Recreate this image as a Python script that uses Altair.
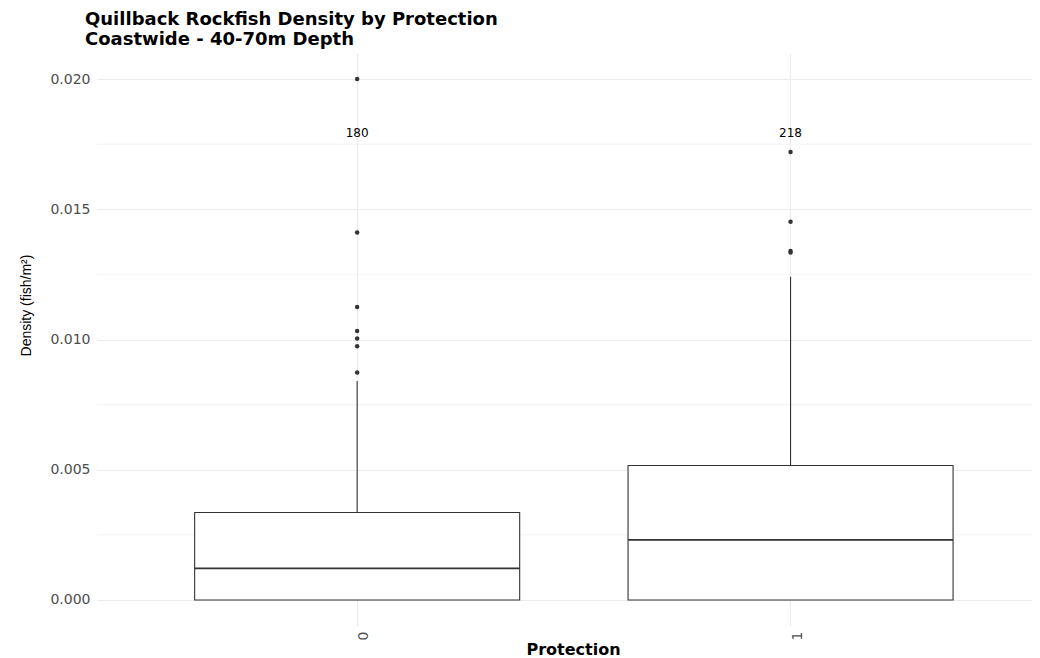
import altair as alt
import pandas as pd

# ---- data ----
protection = ["0", "1"]
q1 = [0.0, 0.0]
median = [0.00121, 0.00231]
q3 = [0.00336, 0.00516]
whisker_lo = [0.0, 0.0]
whisker_hi = [0.00841, 0.01241]
counts = [180, 218]
label_level = [0.018, 0.018]

out_group = ["0", "0", "0", "0", "0", "0", "0", "1", "1", "1", "1"]
out_value = [0.0200, 0.01411, 0.01125, 0.01033, 0.01004, 0.00974, 0.00873,
             0.01720, 0.01452, 0.01340, 0.01334]

y_major = [0.0, 0.005, 0.010, 0.015, 0.020]
y_minor = [0.0025, 0.0075, 0.0125, 0.0175]

box_df = pd.DataFrame({
    "Protection": protection, "q1": q1, "median": median, "q3": q3,
    "lo": whisker_lo, "hi": whisker_hi, "n": counts, "ly": label_level,
})
out_df = pd.DataFrame({"Protection": out_group, "value": out_value})
minor_df = pd.DataFrame({"v": y_minor})

Y_TITLE = "Density (fish/m²)"
yscale = alt.Scale(domain=[-0.001, 0.021], nice=False, zero=False)
xscale = alt.Scale(type="band", domain=protection, paddingInner=0.25,
                   paddingOuter=0.2037, align=0.553)

yaxis = alt.Axis(
    values=y_major, format=".3f", title=Y_TITLE, ticks=False, domain=False,
    labelFont="DejaVu Sans", labelFontSize=14, labelColor="#4D4D4D",
    labelPadding=7, gridColor="#EBEBEB", gridWidth=1.1,
    titleFont="Liberation Sans", titleFontSize=14, titleFontWeight="normal",
    titleColor="#000000", titleX=-64, titleY=252, titleAlign="center",
    titleBaseline="bottom", titleAngle=270,
)
xaxis = alt.Axis(
    title="Protection", ticks=False, domain=False, labelAngle=270,
    labelFont="DejaVu Sans", labelFontSize=14, labelColor="#4D4D4D",
    labelPadding=5, labelBaseline="top", grid=True, bandPosition=0.5,
    gridColor="#EBEBEB", gridWidth=1.1,
    titleFont="DejaVu Sans", titleFontSize=16, titleFontWeight="bold",
    titleColor="#000000", titleX=476, titleY=28, titleAlign="center",
    titleBaseline="alphabetic",
)

X = alt.X("Protection:N", scale=xscale, axis=xaxis, sort=protection)

minor = alt.Chart(minor_df).mark_rule(color="#EBEBEB", strokeWidth=0.6).encode(
    y=alt.Y("v:Q", scale=yscale, axis=yaxis)
)

whisk_up = alt.Chart(box_df).mark_rule(color="#333333", strokeWidth=1.1).encode(
    x=X, y=alt.Y("q3:Q", scale=yscale, axis=yaxis), y2="hi:Q"
)
whisk_dn = alt.Chart(box_df).mark_rule(color="#333333", strokeWidth=1.1).encode(
    x=X, y=alt.Y("lo:Q", scale=yscale, axis=yaxis), y2="q1:Q"
)

box = alt.Chart(box_df).mark_rect(fill="white", stroke="#333333", strokeWidth=1.1).encode(
    x=X, y=alt.Y("q1:Q", scale=yscale, axis=yaxis), y2="q3:Q"
)

med = alt.Chart(box_df).mark_rect(fill="#333333", stroke="#333333", strokeWidth=1.8).encode(
    x=X, y=alt.Y("median:Q", scale=yscale, axis=yaxis), y2="median:Q"
)

pts = alt.Chart(out_df).mark_circle(color="#333333", opacity=1, size=20).encode(
    x=X, y=alt.Y("value:Q", scale=yscale, axis=yaxis)
)

txt = alt.Chart(box_df).mark_text(font="DejaVu Sans", fontSize=12, color="#000000",
                                   baseline="middle", dy=2).encode(
    x=X, y=alt.Y("ly:Q", scale=yscale, axis=yaxis), text="n:Q"
)

chart = alt.layer(minor, whisk_up, whisk_dn, box, med, pts, txt).properties(
    width=935, height=573,
    background="white",
    autosize=alt.AutoSizeParams(type="none"),
    padding={"left": 89, "top": 45, "right": 0, "bottom": 32},
    title=alt.TitleParams(
        text=["Quillback Rockfish Density by Protection", "Coastwide - 40-70m Depth"],
        anchor="start", frame="group", dx=-12, offset=4,
        font="DejaVu Sans", fontSize=18, fontWeight="bold", color="#000000",
        lineHeight=20,
    ),
).configure_view(stroke=None, strokeWidth=0)

chart.save("out.html", embed_options={"renderer": "svg", "actions": False})
